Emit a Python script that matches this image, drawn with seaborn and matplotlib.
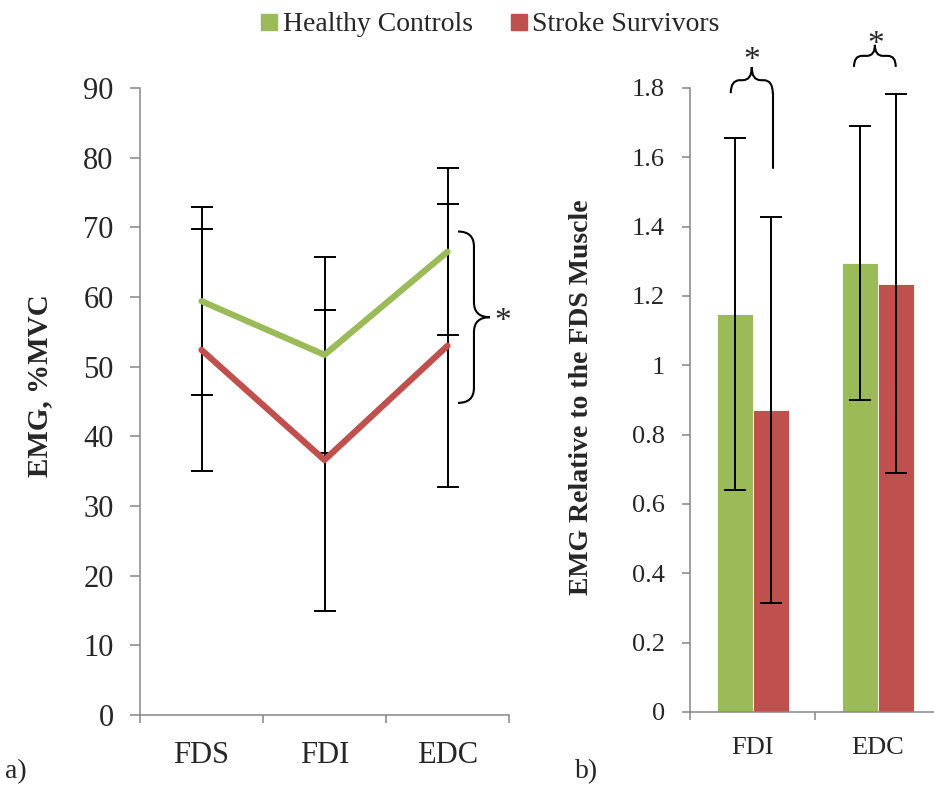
import numpy as np
import pandas as pd
import seaborn as sns
import matplotlib.pyplot as plt
from matplotlib.path import Path
from matplotlib.patches import PathPatch
from matplotlib.lines import Line2D

sns.set_style('white')
plt.rcParams['font.family'] = ['Liberation Serif', 'DejaVu Serif']

# panel a) mean EMG (%MVC) and SD
muscles = ['FDS', 'FDI', 'EDC']
healthy_mean = [59.4, 51.7, 66.5]
healthy_sd = [13.5, 14.1, 12.0]
stroke_mean = [52.4, 36.6, 53.0]
stroke_sd = [17.4, 21.6, 20.3]

# panel b) EMG relative to FDS, mean and SD
rel_muscles = ['FDI', 'EDC']
healthy_rel = [1.148, 1.296]
healthy_rel_sd = [0.508, 0.395]
stroke_rel = [0.871, 1.236]
stroke_rel_sd = [0.557, 0.546]

groups = ['Healthy Controls', 'Stroke Survivors']
colors = {'Healthy Controls': '#9BBB59', 'Stroke Survivors': '#C0504D'}
grey = '#868686'


def brace(ax, p0, p1, depth, radius, side=1, lw=1.5):
    # curly brace between p0 and p1 (data coords), shape built in pixels
    tr = ax.transData
    a = np.array(tr.transform(p0))
    b = np.array(tr.transform(p1))
    t = (b - a) / np.linalg.norm(b - a)
    n = np.array([-t[1], t[0]]) * side
    h = depth / 2.0
    m = (a + b) / 2
    pts = [a, a + n * h, a + t * radius + n * h,
           m - t * radius + n * h, m + n * h, m + n * 2 * h,
           m + n * h, m + t * radius + n * h,
           b - t * radius + n * h, b + n * h, b]
    codes = [Path.MOVETO, Path.CURVE3, Path.CURVE3, Path.LINETO, Path.CURVE3, Path.CURVE3,
             Path.CURVE3, Path.CURVE3, Path.LINETO, Path.CURVE3, Path.CURVE3]
    pts = tr.inverted().transform(np.array(pts))
    ax.add_patch(PathPatch(Path(pts, codes), fill=False, lw=lw, color='black', clip_on=False))


fig = plt.figure(figsize=(9.34, 7.96), dpi=100)
ax1 = fig.add_axes([140 / 934, 81 / 796, 369 / 934, 627 / 796])
ax2 = fig.add_axes([690 / 934, 84 / 796, 250 / 934, 624 / 796])

# ---- panel a
df = pd.DataFrame({
    'muscle': muscles * 2,
    'emg': healthy_mean + stroke_mean,
    'sd': healthy_sd + stroke_sd,
    'group': [groups[0]] * 3 + [groups[1]] * 3,
})
for g in groups:
    sub = df[df['group'] == g]
    ax1.errorbar(np.arange(len(muscles)), sub['emg'], yerr=sub['sd'], fmt='none',
                 ecolor='black', elinewidth=1.4, capsize=8, capthick=1.4, zorder=2)
sns.lineplot(data=df, x='muscle', y='emg', hue='group', palette=colors, sort=False,
             lw=4.5, legend=False, ax=ax1, zorder=3)
ax1.set_xlim(-0.5, 2.5)
ax1.set_ylim(0, 90)
ax1.set_yticks(range(0, 91, 10))
ax1.set_xticks(range(3))
ax1.set_xticklabels(muscles)
ax1.set_xticks([-0.5, 0.5, 1.5, 2.5], minor=True)
ax1.set_xlabel('')
ax1.set_ylabel('EMG, %MVC', fontsize=21, fontweight='bold')
ax1.yaxis.set_label_coords(-0.235, 0.525)
ax1.tick_params(axis='y', labelsize=22, length=7, width=1.1, color=grey, pad=12, left=True)
ax1.tick_params(axis='x', which='major', labelsize=22, length=0, pad=19)
ax1.tick_params(axis='x', which='minor', length=6, width=1.1, color=grey, bottom=True)

# ---- panel b
df2 = pd.DataFrame({
    'muscle': rel_muscles * 2,
    'rel': healthy_rel + stroke_rel,
    'sd': healthy_rel_sd + stroke_rel_sd,
    'group': [groups[0]] * 2 + [groups[1]] * 2,
})
sns.barplot(data=df2, x='muscle', y='rel', hue='group', palette=colors, width=0.576,
            errorbar=None, saturation=1, legend=False, ax=ax2,
            edgecolor='white', linewidth=0.6)
for cont, g in zip(ax2.containers, groups):
    sub = df2[df2['group'] == g]
    xs = [p.get_x() + p.get_width() / 2 for p in cont.patches]
    ax2.errorbar(xs, sub['rel'], yerr=sub['sd'], fmt='none', ecolor='black',
                 elinewidth=1.4, capsize=8, capthick=1.4, zorder=3)
ax2.set_xlim(-0.5, 1.5)
ax2.set_ylim(0, 1.8)
ax2.set_yticks(np.arange(0, 1.81, 0.2))
ax2.set_yticklabels(['0', '0.2', '0.4', '0.6', '0.8', '1', '1.2', '1.4', '1.6', '1.8'])
ax2.set_xticks([-0.5, 0.5, 1.5], minor=True)
ax2.set_xlabel('')
ax2.set_ylabel('EMG Relative to the FDS Muscle', fontsize=20, fontweight='bold')
ax2.yaxis.set_label_coords(-0.385, 0.505)
ax2.tick_params(axis='y', labelsize=19, length=6, width=1.1, color=grey, pad=12, left=True)
ax2.tick_params(axis='x', which='major', labelsize=19, length=0, pad=18)
ax2.tick_params(axis='x', which='minor', length=6, width=1.1, color=grey, bottom=True)

for ax in (ax1, ax2):
    sns.despine(ax=ax)
    for s in ('left', 'bottom'):
        ax.spines[s].set_color(grey)
        ax.spines[s].set_linewidth(1.1)

# significance braces
brace(ax1, (2.085, 69.4), (2.085, 44.8), depth=32, radius=15, side=1)
ax1.text(2.45, 56.5, '*', fontsize=24, ha='center', va='center')
brace(ax2, (-0.174, 1.785), (0.162, 1.785), depth=26, radius=9, side=1)
ax2.plot([0.162, 0.162], [1.785, 1.569], color='black', lw=1.5, clip_on=False)
ax2.text(-0.004, 1.878, '*', fontsize=24, ha='center', va='center')
brace(ax2, (0.812, 1.861), (1.146, 1.861), depth=22, radius=8, side=1)
ax2.text(0.986, 1.925, '*', fontsize=24, ha='center', va='center')

handles = [Line2D([], [], marker='s', ls='', color=colors[g], markersize=11) for g in groups]
fig.legend(handles, groups, loc='center', bbox_to_anchor=(0.524, 0.969), ncol=2,
           frameon=False, fontsize=20, handletextpad=0.15, columnspacing=1.3,
           handlelength=0.7)

fig.text(5 / 934, 0.022, 'a)', fontsize=20)
fig.text(575 / 934, 0.022, 'b)', fontsize=20)

fig.savefig('out.png', dpi=100)
